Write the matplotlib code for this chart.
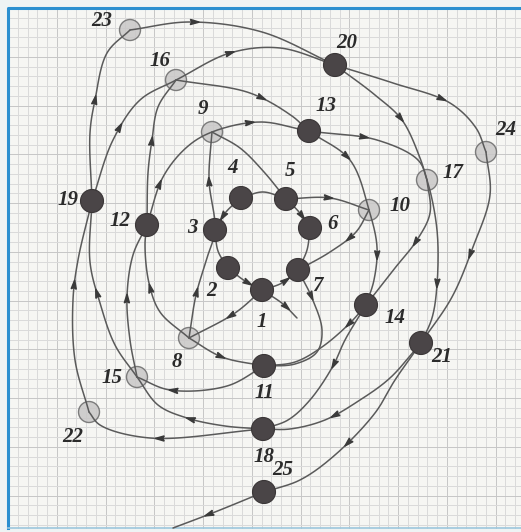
import numpy as np
import matplotlib.pyplot as plt
from matplotlib.patches import Circle, Polygon

# node positions (pixels, y pointing down)
node_x = [262, 228, 215, 241, 286, 310, 298, 189, 212, 369, 264, 147, 309,
          366, 137, 176, 427, 263, 92, 335, 421, 89, 130, 486, 264]
node_y = [290, 268, 230, 198, 199, 228, 270, 338, 132, 210, 366, 225, 131,
          305, 377, 80, 180, 429, 201, 65, 343, 412, 30, 152, 492]
hollow = [8, 9, 10, 15, 16, 17, 22, 23, 24]
label_x = [262, 211, 192, 233, 290, 333, 317, 177, 203, 400, 264, 120, 326,
           395, 112, 160, 453, 264, 68, 347, 442, 73, 102, 506, 283]
label_y = [322, 291, 228, 168, 171, 224, 286, 362, 109, 206, 393, 221, 106,
           318, 378, 61, 173, 457, 200, 43, 357, 437, 21, 130, 470]

# routes: int = node number, tuple = bend point; second item = arrow positions (fraction of length)
routes = [
    ([2, (245, 281), 1], [0.6]),
    ([1, (282, 283), 7], [0.6]),
    ([4, (226, 212), 3], [0.6]),
    ([3, (218, 251), 2], []),
    ([4, (263, 192), 5], []),
    ([5, (299, 212), 6], [0.6]),
    ([6, (307, 250), 7], []),
    ([1, (283, 304), (297, 318)], [0.65]),
    ([1, (235, 313), 8], [0.45]),
    ([8, (196, 295), (207, 258), 3, (209, 180), 9], [0.22, 0.76]),
    ([8, (160, 312), (149, 283), (145, 245), 12], [0.5]),
    ([9, (240, 148), (264, 172), 5], []),
    ([5, (330, 198), 10], [0.5]),
    ([10, (356, 232), (330, 252), 7], [0.35]),
    ([7, (312, 298), (322, 330), (317, 352), (295, 364), 11], [0.2]),
    ([8, (222, 357), 11], [0.45]),
    ([16, (250, 93), (292, 116), 13, (350, 160), 10, (377, 247), (374, 280), 14],
     [0.25, 0.55, 0.85]),
    ([12, (163, 177), (187, 147), 9, (260, 122), 13, (377, 140), (418, 160), 17,
      (437, 230), (437, 285), (432, 318), 21], [0.08, 0.3, 0.52, 0.88]),
    ([11, (227, 386), (170, 390), 15], [0.7]),
    ([15, (130, 340), (127, 297), (133, 255), 12], [0.5]),
    ([18, (225, 426), (187, 418), (158, 405), 15], [0.5]),
    ([15, (115, 345), (100, 303), (90, 262), 19], [0.5]),
    ([18, (150, 438), (100, 425), 22], [0.55]),
    ([22, (75, 360), (73, 300), (78, 260), 19], [0.6]),
    ([19, (90, 133), (95, 100), (107, 53), 23], [0.55]),
    ([19, (113, 140), (140, 100), 16], [0.5]),
    ([12, (148, 173), (152, 140), (158, 107), 16], [0.55]),
    ([16, (230, 53), (280, 48), 20], [0.35]),
    ([23, (190, 22), (262, 32), 20], [0.3]),
    ([20, (375, 95), (402, 120), (420, 158), 17], [0.55]),
    ([17, (430, 213), (417, 240), (395, 268), 14], [0.45]),
    ([14, (350, 323), (322, 347), (295, 362), 11], [0.2]),
    ([14, (345, 340), (333, 366), (310, 400), (288, 420), 18], [0.4]),
    ([20, (393, 83), (450, 103), (476, 128), 24], [0.6]),
    ([24, (490, 195), (473, 247), (452, 297), 21], [0.5]),
    ([21, (390, 378), (360, 400), (325, 420), (290, 429), 18], [0.6]),
    ([21, (395, 380), (375, 413), (335, 455), (300, 480), 25], [0.55]),
    ([25, (215, 512), (173, 528)], [0.6]),
]


def get_xy(p):
    if isinstance(p, int):
        return node_x[p - 1], node_y[p - 1]
    return p


def smooth(pts, n=30):
    # centripetal catmull-rom through the points
    P = np.array(pts, float)
    P = np.vstack([2 * P[0] - P[1], P, 2 * P[-1] - P[-2]])
    out = []
    for i in range(1, len(P) - 2):
        p0, p1, p2, p3 = P[i - 1], P[i], P[i + 1], P[i + 2]
        t0 = 0
        t1 = t0 + np.linalg.norm(p1 - p0) ** 0.5
        t2 = t1 + np.linalg.norm(p2 - p1) ** 0.5
        t3 = t2 + np.linalg.norm(p3 - p2) ** 0.5
        t = np.linspace(t1, t2, n)[:, None]
        a1 = (t1 - t) / (t1 - t0) * p0 + (t - t0) / (t1 - t0) * p1
        a2 = (t2 - t) / (t2 - t1) * p1 + (t - t1) / (t2 - t1) * p2
        a3 = (t3 - t) / (t3 - t2) * p2 + (t - t2) / (t3 - t2) * p3
        b1 = (t2 - t) / (t2 - t0) * a1 + (t - t0) / (t2 - t0) * a2
        b2 = (t3 - t) / (t3 - t1) * a2 + (t - t1) / (t3 - t1) * a3
        c = (t2 - t) / (t2 - t1) * b1 + (t - t1) / (t2 - t1) * b2
        out.append(c if i == 1 else c[1:])
    return np.vstack(out)


W, H = 521, 532
fig = plt.figure(figsize=(W / 100, H / 100), dpi=100)
ax = fig.add_axes([0, 0, 1, 1])
ax.set_xlim(0, W)
ax.set_ylim(H, 0)
ax.axis('off')
fig.patch.set_facecolor('#eef3f4')

# graph paper
ax.fill_between([8, W], 8, 528, color='#f6f6f3', zorder=0)
step = 9.75
for k, g in enumerate(np.arange(8, W, step)):
    c = '#c6c6c6' if k % 5 == 0 else '#dadada'
    ax.plot([g, g], [8, 528], color=c, lw=0.7, zorder=0.5)
for k, g in enumerate(np.arange(8, 528, step)):
    c = '#c6c6c6' if k % 5 == 0 else '#dadada'
    ax.plot([8, W], [g, g], color=c, lw=0.7, zorder=0.5)
ax.plot([8, 8, W], [528, 8, 8], color='#2a8fd0', lw=2.2, zorder=1)
ax.plot([8, W], [528, 528], color='#9cc7dd', lw=1.2, zorder=1)

line_col = '#5a5a5a'
for pts, arrows in routes:
    xy = smooth([get_xy(p) for p in pts])
    ax.plot(xy[:, 0], xy[:, 1], color=line_col, lw=1.1, zorder=2,
            solid_capstyle='round')
    seg = np.linalg.norm(np.diff(xy, axis=0), axis=1)
    s = np.concatenate([[0], np.cumsum(seg)])
    for f in arrows:
        i = np.searchsorted(s, f * s[-1])
        i = min(max(i, 1), len(xy) - 1)
        d = xy[i] - xy[i - 1]
        d = d / np.linalg.norm(d)
        nrm = np.array([-d[1], d[0]])
        tip = xy[i] + d * 4.5
        base = xy[i] - d * 4.5
        tri = [tip, base + nrm * 2.6, base + d * 1.5, base - nrm * 2.6]
        ax.add_patch(Polygon(tri, closed=True, color='#3a3a3a', zorder=3))

for k in range(25):
    n = k + 1
    if n in hollow:
        ax.add_patch(Circle((node_x[k], node_y[k]), 10.5, facecolor='#c9c7c7',
                            edgecolor='#6a6a6a', lw=1.0, alpha=0.85, zorder=1.8))
    else:
        ax.add_patch(Circle((node_x[k], node_y[k]), 11.5, facecolor='#4a4547',
                            edgecolor='#3a3637', lw=0.8, zorder=4))
    ax.text(label_x[k], label_y[k], str(n), ha='center', va='center',
            fontsize=15, fontstyle='italic', fontweight='bold',
            family='Liberation Serif', color='#2b2b2b', zorder=5)

fig.savefig('out.png', dpi=100, facecolor=fig.get_facecolor())
